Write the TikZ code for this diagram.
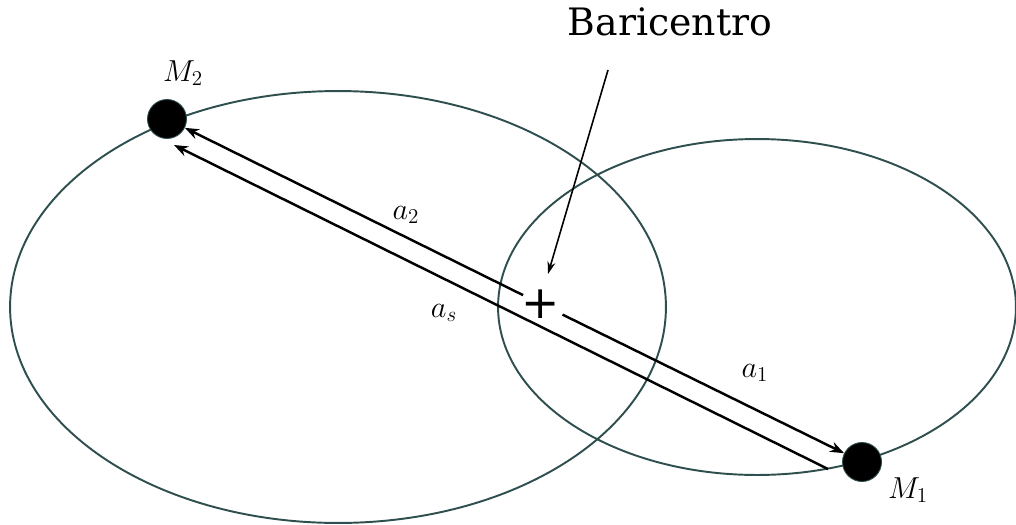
\documentclass[tikz,border=0pt]{standalone}
\usepackage{fontspec}
\newfontfamily\baricfont{DejaVu Serif}
\newfontfamily\plusfont{DejaVu Sans}
\usetikzlibrary{arrows.meta}
\definecolor{orbita}{HTML}{2F4F4F}

\begin{document}
\begin{tikzpicture}[x=0.02cm,y=-0.02cm,
    orbit/.style={draw=orbita,line width=1.1pt},
    mass/.style={circle,fill=black,draw=orbita,line width=0.5pt,inner sep=0pt,minimum size=0.78cm},
    dist/.style={line width=1.4pt,-{Stealth[length=8pt,width=6pt]}},
    lab/.style={font=\fontsize{18}{20}\selectfont}]
    \useasboundingbox (0,0) rectangle (1016,524);

    % Orbits
    \draw[orbit] (338,307) ellipse [x radius=6.56cm, y radius=4.32cm];
    \draw[orbit] (757,307) ellipse [x radius=5.18cm, y radius=3.36cm];

    % Masses
    \node[mass] (m2) at (167,119) {};
    \node[mass] (m1) at (862,462) {};
    \node[lab] (m2lab) at (183,73) {$M_2$};
    \node[lab] (m1lab) at (908,490) {$M_1$};

    % Barycentre
    \node[inner sep=0pt,font=\plusfont\fontsize{26}{26}\selectfont] (bc) at (541,304) {+};
    \node[font=\baricfont\fontsize{21.5}{24}\selectfont] (bclab) at (670,22) {Baricentro};
    \coordinate (ptr) at (608,70);
    \coordinate (ptrtip) at (548,274);
    \draw[line width=0.9pt,-{Stealth[length=7pt,width=4.5pt]}] (ptr) -- (ptrtip);

    % Distances
    \draw[dist,shorten <=20*0.02cm] (bc.center) -- (m2);
    \draw[dist,shorten <=24*0.02cm] (bc.center) -- (m1);
    \coordinate (as1) at (828,469);
    \coordinate (as2) at (174,145);
    \draw[dist] (as1) -- (as2);
    \node[lab] (a2lab) at (406,215) {$a_2$};
    \node[lab] (aslab) at (444,313) {$a_s$};
    \node[lab] (a1lab) at (755,373) {$a_1$};
\end{tikzpicture}
\end{document}
